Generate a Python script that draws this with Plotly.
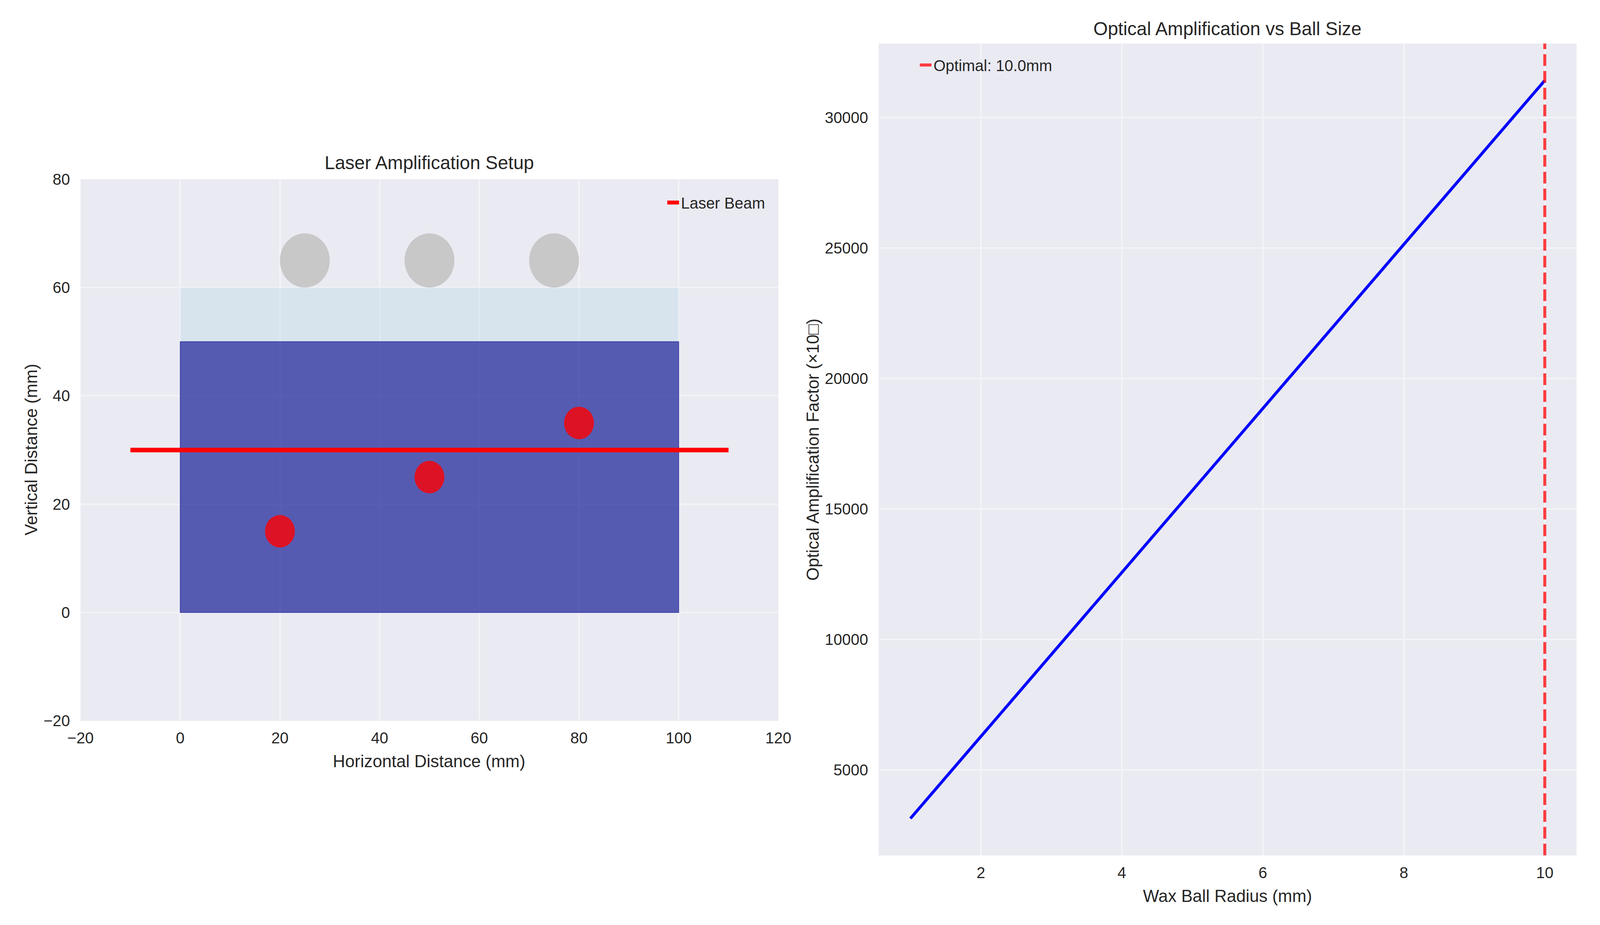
import plotly.graph_objects as go

# left panel: the setup sketch (mm)
laser_x = [-10, 110]
laser_y = [30, 30]
tank_x = [0, 100]
water_y = [0, 60]
wax_y = [0, 50]
ball_x = [25, 50, 75]
ball_y = [65, 65, 65]
ball_r = [5, 5, 5]
dot_x = [20, 50, 80]
dot_y = [15, 25, 35]
dot_r = [3, 3, 3]

# right panel: amplification vs radius
radius_mm = [1, 2, 3, 4, 5, 6, 7, 8, 9, 10]
amp_factor = [3142, 6283, 9425, 12566, 15708, 18850, 21991, 25133, 28274, 31416]
optimal_radius = 10.0

left_xticks = [-20, 0, 20, 40, 60, 80, 100, 120]
left_yticks = [-20, 0, 20, 40, 60, 80]
right_xticks = [2, 4, 6, 8, 10]
right_yticks = [5000, 10000, 15000, 20000, 25000, 30000]

# layout was measured on the 4472x2368 reference; the page viewport is 4096x2368
REF_W = 4472
VIEW_W, VIEW_H = 4096, 2368
MARGIN = 8  # default body margin
W, H = VIEW_W - 2 * MARGIN, VIEW_H - 2 * MARGIN
SX = VIEW_W / REF_W
FS = 0.95

FONT = "Liberation Sans, Arial, sans-serif"
TXT = "#262626"
GRID = "rgb(243,243,247)"


def cx(p):
    return p * SX - MARGIN


def fx(p):
    return cx(p) / W


def fy(p):
    return 1 - (p - MARGIN) / H


def fs(v):
    return v * FS


fig = go.Figure()

fig.add_trace(go.Scatter(
    x=laser_x, y=laser_y, mode="lines",
    line=dict(color="red", width=fs(12.5)),
    name="Laser Beam", xaxis="x", yaxis="y", legend="legend"
))

fig.add_trace(go.Scatter(
    x=radius_mm, y=amp_factor, mode="lines",
    line=dict(color="blue", width=fs(8)),
    showlegend=False, xaxis="x2", yaxis="y2"
))

shapes = [
    dict(type="rect", xref="x", yref="y", layer="between",
         x0=tank_x[0], x1=tank_x[1], y0=water_y[0], y1=water_y[1],
         fillcolor="rgba(173,216,230,0.3)", line=dict(width=0)),
    dict(type="rect", xref="x", yref="y", layer="between",
         x0=tank_x[0], x1=tank_x[1], y0=wax_y[0], y1=wax_y[1],
         fillcolor="rgba(0,0,139,0.6)", line=dict(color="rgba(0,0,139,0.6)", width=2)),
]
for bx, by, r in zip(ball_x, ball_y, ball_r):
    shapes.append(dict(type="circle", xref="x", yref="y", layer="between",
                       x0=bx - r, x1=bx + r, y0=by - r, y1=by + r,
                       fillcolor="rgb(200,200,201)", line=dict(width=0)))
for dx, dy, r in zip(dot_x, dot_y, dot_r):
    shapes.append(dict(type="circle", xref="x", yref="y", layer="between",
                       x0=dx - r, x1=dx + r, y0=dy - r, y1=dy + r,
                       fillcolor="rgba(255,0,0,0.8)", line=dict(width=0)))
shapes.append(dict(type="line", xref="x2", yref="y2 domain", layer="above",
                   x0=optimal_radius, x1=optimal_radius, y0=0, y1=1,
                   line=dict(color="rgba(255,0,0,0.75)", width=fs(8), dash="30px,13px"),
                   showlegend=True, name=f"Optimal: {optimal_radius:.1f}mm", legend="legend2"))

# matplotlib-style 5% padding on the right panel
xpad = (max(radius_mm) - min(radius_mm)) * 0.05
ypad = (max(amp_factor) - min(amp_factor)) * 0.05

axis_common = dict(showgrid=True, gridcolor=GRID, gridwidth=fs(4), zeroline=False,
                   showline=False, ticks="", tickmode="array",
                   tickfont=dict(family=FONT, size=fs(42), color=TXT))

fig.update_layout(
    width=W, height=H,
    margin=dict(l=0, r=0, t=0, b=0),
    paper_bgcolor="white", plot_bgcolor="#EAEAF2",
    font=dict(family=FONT, color=TXT),
    shapes=shapes,
    xaxis=dict(axis_common, domain=[fx(191), fx(2174)], range=[-20, 120],
               tickvals=left_xticks, ticklabelstandoff=17, anchor="y"),
    yaxis=dict(axis_common, domain=[fy(1858), fy(445)], range=[-20, 80],
               tickvals=left_yticks, ticklabelstandoff=26, anchor="x"),
    xaxis2=dict(axis_common, domain=[fx(2459), fx(4442)],
                range=[min(radius_mm) - xpad, max(radius_mm) + xpad],
                tickvals=right_xticks, ticklabelstandoff=17, anchor="y2"),
    yaxis2=dict(axis_common, domain=[fy(2209), fy(91)],
                range=[min(amp_factor) - ypad, max(amp_factor) + ypad],
                tickvals=right_yticks, tickformat="d", ticklabelstandoff=26, anchor="x2"),
    legend=dict(x=(cx(2136) + 6) / W, xanchor="right", y=fy(506), yanchor="middle",
                bgcolor="rgba(0,0,0,0)", font=dict(family=FONT, size=fs(42), color=TXT)),
    legend2=dict(x=(cx(2614) - 40) / W, xanchor="left", y=fy(147), yanchor="middle",
                 bgcolor="rgba(0,0,0,0)", font=dict(family=FONT, size=fs(42), color=TXT)),
)

annots = [
    # panel titles
    dict(text="Laser Amplification Setup", x=fx(1182), y=fy(402), size=50),
    dict(text="Optical Amplification vs Ball Size", x=fx(3450), y=fy(52), size=50),
    # axis titles
    dict(text="Horizontal Distance (mm)", x=fx(1182), y=fy(1963), size=46),
    dict(text="Vertical Distance (mm)", x=fx(51), y=fy(1151), size=46, angle=-90),
    dict(text="Wax Ball Radius (mm)", x=fx(3450), y=fy(2315), size=46),
    dict(text="Optical Amplification Factor (×10□)", x=fx(2272), y=fy(1150),
         size=46, angle=-90),
]
for a in annots:
    fig.add_annotation(text=a["text"], x=a["x"], y=a["y"], xref="paper", yref="paper",
                       xanchor="center", yanchor="middle", showarrow=False,
                       textangle=a.get("angle", 0),
                       font=dict(family=FONT, size=fs(a["size"]), color=TXT))

fig.write_html("out.html")
